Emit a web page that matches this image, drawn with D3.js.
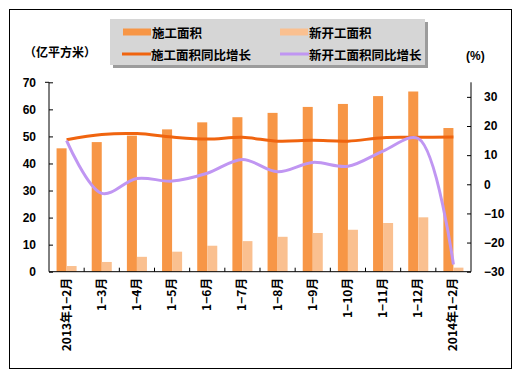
<!DOCTYPE html>
<html>
<head>
<meta charset="utf-8">
<script src="https://cdn.jsdelivr.net/npm/d3@7/dist/d3.min.js"></script>
<style>
  html, body { margin: 0; padding: 0; background: #ffffff; }
  svg { display: block; }
</style>
</head>
<body>
<svg id="chart" width="517" height="372"></svg>
<script>
const categories = ["2013年1-2月","1-3月","1-4月","1-5月","1-6月","1-7月","1-8月","1-9月","1-10月","1-11月","1-12月","2014年1-2月"];
const constructionArea = [45.6, 47.9, 50.3, 52.6, 55.2, 57.1, 58.7, 60.9, 62.0, 64.9, 66.6, 53.1];
const newStartArea = [2.1, 3.6, 5.5, 7.4, 9.6, 11.3, 12.9, 14.3, 15.5, 18.0, 20.1, 1.5];
const constructionGrowth = [15.3, 17.1, 17.4, 16.2, 15.5, 16.1, 14.8, 15.1, 14.8, 16.0, 16.1, 16.2];
const newStartGrowth = [15.0, -3.1, 2.0, 1.1, 3.8, 8.5, 4.3, 7.5, 6.2, 11.4, 15.7, -27.5];
const leftTicks = [0, 10, 20, 30, 40, 50, 60, 70];
const rightTicks = [-30, -20, -10, 0, 10, 20, 30];
const seriesNames = ["施工面积", "新开工面积", "施工面积同比增长", "新开工面积同比增长"];

const colors = {
  bar1: "#F79646",
  bar2: "#FAC090",
  line1: "#F0640F",
  line2: "#C096F2"
};

const svg = d3.select("#chart");
const fontNum = "'Liberation Sans', Arial, sans-serif";
const fontCJK = "'Noto Sans CJK SC', sans-serif";

// outer border
svg.append("rect").attr("x", 9.5).attr("y", 9.5).attr("width", 502).attr("height", 359)
  .attr("fill", "#fff").attr("stroke", "#000").attr("stroke-width", 1);

const plot = { left: 49, right: 471, top: 82.3, bottom: 271.7 };

const x = d3.scaleBand().domain(categories).range([plot.left, plot.right])
  .paddingInner(0.43).paddingOuter(0.215);
const xSub = d3.scaleBand().domain([0, 1]).range([0, x.bandwidth()]);
const yL = d3.scaleLinear().domain([0, 70]).range([plot.bottom, plot.top]);
const yR = d3.scaleLinear().domain([-30, 35]).range([plot.bottom, plot.top]);

// bars
const barData = [constructionArea, newStartArea];
const barColors = [colors.bar1, colors.bar2];
barData.forEach((arr, si) => {
  svg.append("g").selectAll("rect").data(arr).enter().append("rect")
    .attr("x", (d, i) => x(categories[i]) + xSub(si))
    .attr("width", xSub.bandwidth())
    .attr("y", d => yL(d))
    .attr("height", d => yL(0) - yL(d))
    .attr("fill", barColors[si]);
});

// lines
const cx = i => x(categories[i]) + x.bandwidth() / 2;
const lineGen = d3.line().x((d, i) => cx(i)).y(d => yR(d)).curve(d3.curveCatmullRom.alpha(0.5));
svg.append("path").datum(constructionGrowth).attr("d", lineGen)
  .attr("fill", "none").attr("stroke", colors.line1).attr("stroke-width", 3);
svg.append("path").datum(newStartGrowth).attr("d", lineGen)
  .attr("fill", "none").attr("stroke", colors.line2).attr("stroke-width", 3);

// left axis
const axL = d3.axisLeft(yL).tickValues(leftTicks).tickSize(-4).tickPadding(13);
const gL = svg.append("g").attr("transform", `translate(${plot.left},0)`).call(axL);
gL.select(".domain").attr("d", `M-4,${plot.top}H0V${plot.bottom}`).attr("stroke", "#000");
gL.selectAll(".tick line").attr("stroke", "#000");
gL.selectAll("text").attr("font-family", fontNum).attr("font-weight", "bold").attr("font-size", 12).attr("fill", "#000");

// right axis
const axR = d3.axisRight(yR).tickValues(rightTicks).tickSize(-4).tickPadding(13);
const gR = svg.append("g").attr("transform", `translate(${plot.right},0)`).call(axR);
gR.select(".domain").attr("d", `M0,${plot.top}V${plot.bottom}`).attr("stroke", "#000");
gR.selectAll(".tick line").attr("stroke", "#000");
gR.selectAll("text").attr("font-family", fontNum).attr("font-weight", "bold").attr("font-size", 12).attr("fill", "#000")
  .text(d => d < 0 ? "\u2212" + Math.abs(d) : d);

// bottom axis
const gB = svg.append("g").attr("transform", `translate(0,${plot.bottom})`);
gB.append("line").attr("x1", plot.left).attr("x2", plot.right).attr("y1", 0).attr("y2", 0).attr("stroke", "#000");
const step = x.step();
gB.selectAll("line.tk").data(d3.range(1, categories.length)).enter().append("line")
  .attr("class", "tk")
  .attr("x1", i => plot.left + i * step).attr("x2", i => plot.left + i * step)
  .attr("y1", 0).attr("y2", -4).attr("stroke", "#000");
gB.selectAll("text").data(categories).enter().append("text")
  .attr("transform", (d, i) => `translate(${cx(i) + 4},6) rotate(-90)`)
  .attr("text-anchor", "end")
  .attr("font-family", fontCJK).attr("font-weight", "bold").attr("font-size", 12).attr("fill", "#000")
  .text(d => d.replace(/-/g, "\u2212"));

// axis titles
svg.append("text").attr("x", 24).attr("y", 51).attr("dominant-baseline", "central")
  .attr("font-family", fontCJK).attr("font-weight", "bold").attr("font-size", 12).text("（亿平方米）");
svg.append("text").attr("x", 466).attr("y", 56).attr("dominant-baseline", "central")
  .attr("font-family", fontNum).attr("font-weight", "bold").attr("font-size", 12).text("(%)");

// legend
const lg = svg.append("g");
lg.append("rect").attr("x", 113).attr("y", 22).attr("width", 315).attr("height", 46).attr("fill", "#9c9c9c");
lg.append("rect").attr("x", 110).attr("y", 19).attr("width", 315).attr("height", 46).attr("fill", "#d6d6d6");
const legItems = [
  { name: seriesNames[0], type: "bar", color: colors.bar1, x: 123, y: 32 },
  { name: seriesNames[1], type: "bar", color: colors.bar2, x: 280, y: 32 },
  { name: seriesNames[2], type: "line", color: colors.line1, x: 122, y: 54 },
  { name: seriesNames[3], type: "line", color: colors.line2, x: 280, y: 54 }
];
legItems.forEach(it => {
  if (it.type === "bar") {
    lg.append("rect").attr("x", it.x).attr("y", it.y - 3.5).attr("width", 28).attr("height", 7).attr("fill", it.color);
  } else {
    lg.append("line").attr("x1", it.x).attr("x2", it.x + 29).attr("y1", it.y).attr("y2", it.y)
      .attr("stroke", it.color).attr("stroke-width", 3);
  }
  lg.append("text").attr("x", it.x + 29).attr("y", it.y).attr("dominant-baseline", "central")
    .attr("font-family", fontCJK).attr("font-weight", "bold").attr("font-size", 12.5).attr("fill", "#000")
    .text(it.name);
});
</script>
</body>
</html>
